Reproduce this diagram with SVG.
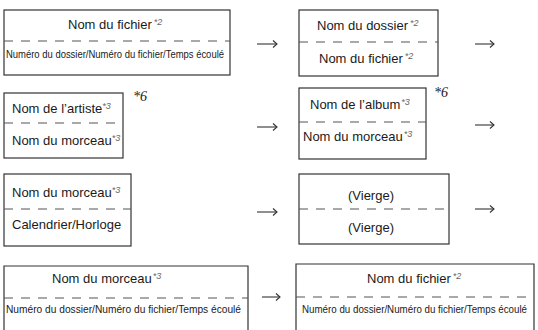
<svg xmlns="http://www.w3.org/2000/svg" width="538" height="330" viewBox="0 0 538 330">
  <style>
    .box { fill: #fff; stroke: #333; stroke-width: 1.2; }
    .div { fill: none; stroke: #555; stroke-width: 1.2; stroke-dasharray: 9 8; }
    .t { font-family: "Liberation Sans", Arial, sans-serif; font-size: 13px; fill: #1a1a1a; }
    .s { font-family: "Liberation Sans", Arial, sans-serif; font-size: 11px; fill: #1a1a1a; }
    .sup { font-size: 9px; font-style: italic; fill: #666; }
    .note { font-family: "Liberation Serif", "Times New Roman", serif; font-style: italic; font-size: 14px; fill: #1a1a1a; }
    .arr { fill: none; stroke: #333; stroke-width: 1.1; }
  </style>
  <defs>
    <marker id="head" viewBox="0 0 10 10" refX="9" refY="5" markerWidth="10" markerHeight="10" markerUnits="userSpaceOnUse" orient="auto">
      <path d="M5,1.5 L9,5 L5,8.5" fill="none" stroke="#333" stroke-width="1.1"/>
    </marker>
  </defs>

  <g id="connectors">
    <line class="arr" x1="257" y1="44" x2="277" y2="44" marker-end="url(#head)"/>
    <line class="arr" x1="475" y1="44" x2="494" y2="44" marker-end="url(#head)"/>
    <line class="arr" x1="257" y1="127" x2="277" y2="127" marker-end="url(#head)"/>
    <line class="arr" x1="475" y1="125" x2="494" y2="125" marker-end="url(#head)"/>
    <line class="arr" x1="257" y1="212" x2="277" y2="212" marker-end="url(#head)"/>
    <line class="arr" x1="475" y1="209" x2="494" y2="209" marker-end="url(#head)"/>
    <line class="arr" x1="262" y1="297" x2="280" y2="297" marker-end="url(#head)"/>
  </g>

  <g id="box-file">
    <rect class="box" x="4" y="10" width="226" height="65"/>
    <line class="div" x1="4" y1="41" x2="230" y2="41"/>
    <text class="t" x="68" y="29">Nom du fichier<tspan class="sup" dx="2" dy="-4">*2</tspan></text>
    <text class="s" x="6" y="58" textLength="218" lengthAdjust="spacingAndGlyphs">Numéro du dossier/Numéro du fichier/Temps écoulé</text>
  </g>

  <g id="box-folder">
    <rect class="box" x="299" y="10" width="139" height="66"/>
    <line class="div" x1="299" y1="42" x2="438" y2="42"/>
    <text class="t" x="317" y="30">Nom du dossier<tspan class="sup" dx="2" dy="-4">*2</tspan></text>
    <text class="t" x="319" y="63">Nom du fichier<tspan class="sup" dx="2" dy="-4">*2</tspan></text>
  </g>

  <g id="box-artist">
    <rect class="box" x="4" y="93" width="119" height="65"/>
    <line class="div" x1="4" y1="123" x2="123" y2="123"/>
    <text class="t" x="12" y="113">Nom de l’artiste<tspan class="sup" dy="-4">*3</tspan></text>
    <text class="t" x="12" y="145">Nom du morceau<tspan class="sup" dy="-4">*3</tspan></text>
    <text class="note" x="133" y="101">*6</text>
  </g>

  <g id="box-album">
    <rect class="box" x="299" y="88" width="127" height="71"/>
    <line class="div" x1="299" y1="122" x2="426" y2="122"/>
    <text class="t" x="310" y="109">Nom de l’album<tspan class="sup" dx="1" dy="-4">*3</tspan></text>
    <text class="t" x="303" y="141">Nom du morceau<tspan class="sup" dx="1" dy="-4">*3</tspan></text>
    <text class="note" x="434" y="97">*6</text>
  </g>

  <g id="box-clock">
    <rect class="box" x="4" y="174" width="127" height="72"/>
    <line class="div" x1="4" y1="209" x2="131" y2="209"/>
    <text class="t" x="12" y="197">Nom du morceau<tspan class="sup" dy="-4">*3</tspan></text>
    <text class="t" x="12" y="229">Calendrier/Horloge</text>
  </g>

  <g id="box-blank">
    <rect class="box" x="299" y="174" width="150" height="70"/>
    <line class="div" x1="299" y1="209" x2="449" y2="209"/>
    <text class="t" x="371" y="200" text-anchor="middle">(Vierge)</text>
    <text class="t" x="371" y="232" text-anchor="middle">(Vierge)</text>
  </g>

  <g id="box-track-time">
    <path class="box" d="M4,331 V266 H248 V331"/>
    <line class="div" x1="4" y1="298" x2="248" y2="298"/>
    <text class="t" x="52" y="283">Nom du morceau<tspan class="sup" dx="1" dy="-4">*3</tspan></text>
    <text class="s" x="6" y="313" textLength="235" lengthAdjust="spacingAndGlyphs">Numéro du dossier/Numéro du fichier/Temps écoulé</text>
  </g>

  <g id="box-file-time">
    <path class="box" d="M296,331 V264 H534 V331"/>
    <line class="div" x1="296" y1="297" x2="534" y2="297"/>
    <text class="t" x="367" y="283">Nom du fichier<tspan class="sup" dx="2" dy="-4">*2</tspan></text>
    <text class="s" x="302" y="313" textLength="225" lengthAdjust="spacingAndGlyphs">Numéro du dossier/Numéro du fichier/Temps écoulé</text>
  </g>
</svg>
